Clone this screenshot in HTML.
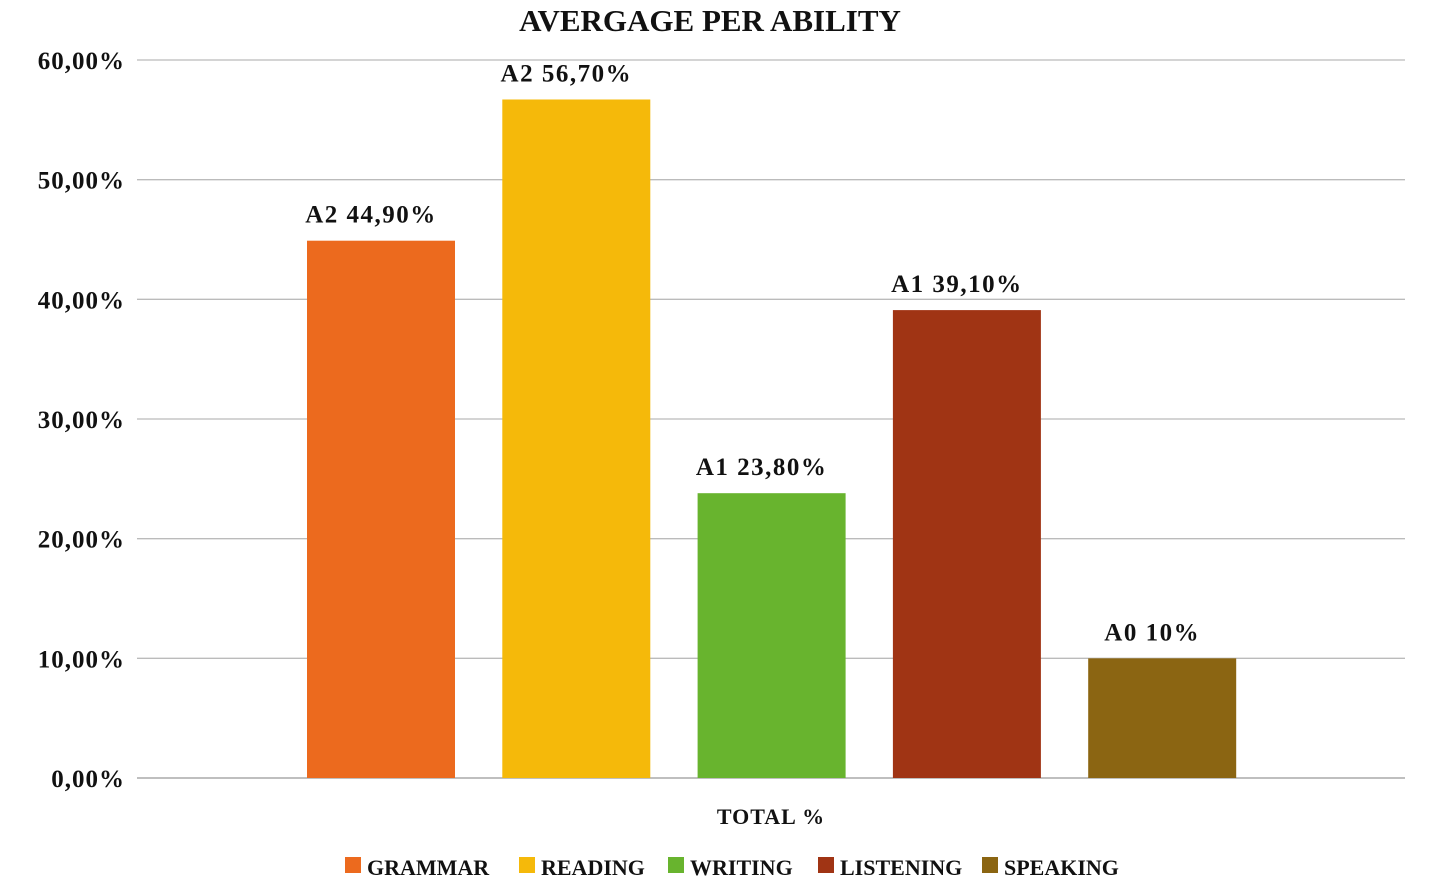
<!DOCTYPE html>
<html><head><meta charset="utf-8"><style>
body{margin:0;background:#fff;width:1440px;height:888px;overflow:hidden;font-family:"Liberation Serif",serif}
</style></head><body>
<svg width="1440" height="888" id="chart" font-family="Liberation Serif, serif" font-weight="bold">
<text x="710" y="31" text-anchor="middle" font-size="31" fill="#111">AVERGAGE PER ABILITY</text>
<g id="grid"></g><g id="bars"></g><g id="legend"></g>
<text x="771" y="824" text-anchor="middle" font-size="22" fill="#111" letter-spacing="1">TOTAL %</text>
</svg>
<script>
const categories=["GRAMMAR","READING","WRITING","LISTENING","SPEAKING"];
const values=[44.9,56.7,23.8,39.1,10];
const levels=["A2","A2","A1","A1","A0"];
const valueLabels=["44,90%","56,70%","23,80%","39,10%","10%"];
const ticks=[0,10,20,30,40,50,60];
const tickLabels=["0,00%","10,00%","20,00%","30,00%","40,00%","50,00%","60,00%"];
const colors=["#EC6A1E","#F5B90A","#68B42E","#A03414","#8B6512"];
const NS="http://www.w3.org/2000/svg";
const y0=778,yTop=60,left=137,right=1405;
const y=v=>y0-(v/60)*(y0-yTop);
const x=i=>307+i*195.3;
const bw=148;
function mk(t,a,p){const e=document.createElementNS(NS,t);for(const k in a)e.setAttribute(k,a[k]);p.appendChild(e);return e;}
const g=document.getElementById('grid');
ticks.forEach((t,i)=>{
 const l=mk('line',{x1:left,x2:right,y1:y(t),y2:y(t),stroke:i==0?'#999':'#bbb','stroke-width':1.3},g);
 
 
 const tx=mk('text',{x:125,y:y(t)+9,'text-anchor':'end','font-size':25,fill:'#111','letter-spacing':1},g);
 tx.textContent=tickLabels[i];
 
 
});
const b=document.getElementById('bars');
values.forEach((v,i)=>{
 const r=mk('rect',{x:x(i),y:y(v),width:bw,height:y0-y(v),fill:colors[i]},b);
 
 
 const t=mk('text',{x:x(i)+bw/2-10,y:y(v)-18,'text-anchor':'middle','font-size':25,fill:'#111','letter-spacing':1.5},b);
 t.textContent=levels[i]+" "+valueLabels[i];
 
 
});
const lg=document.getElementById('legend');
const lx=[345,519,668,818,982];
categories.forEach((c,i)=>{
 const r=mk('rect',{x:lx[i],y:857,width:16,height:16,fill:colors[i]},lg);
 
 
 const t=mk('text',{x:lx[i]+22,y:875,'font-size':22,fill:'#111'},lg);
 t.textContent=c;
 
 
});
</script>
</body></html>
